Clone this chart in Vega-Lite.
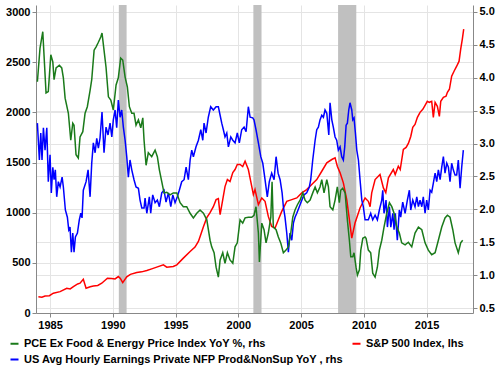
{
  "$schema": "https://vega.github.io/schema/vega-lite/v6.json",
  "width": 437,
  "height": 308,
  "autosize": {"type": "none"},
  "padding": {"left": 36, "top": 5, "right": 27, "bottom": 65},
  "config": {
    "view": {"stroke": null},
    "font": "Liberation Sans",
    "axis": {
      "labelFont": "Liberation Sans",
      "labelFontWeight": "bold",
      "labelFontSize": 11,
      "labelColor": "#000000",
      "domainColor": "#888888",
      "tickColor": "#888888",
      "gridColor": "#e4e4e4",
      "tickSize": 4,
      "labelPadding": 2,
      "title": null
    },
    "legend": {
      "labelFont": "Liberation Sans",
      "labelFontWeight": "bold",
      "labelFontSize": 11,
      "labelColor": "#000000"
    }
  },
  "datasets": {
    "rec": [
      {"a": 1990.48, "b": 1991.1},
      {"a": 2001.2, "b": 2001.85},
      {"a": 2007.95, "b": 2009.4}
    ],
    "sp": [
      {"s": "SPX", "x": 1984.07, "y": 163}, {"s": "SPX", "x": 1984.35, "y": 158}, {"s": "SPX", "x": 1984.6, "y": 170},
      {"s": "SPX", "x": 1984.95, "y": 172}, {"s": "SPX", "x": 1985.26, "y": 197}, {"s": "SPX", "x": 1985.8, "y": 213},
      {"s": "SPX", "x": 1986.33, "y": 247}, {"s": "SPX", "x": 1986.6, "y": 240}, {"s": "SPX", "x": 1986.86, "y": 263},
      {"s": "SPX", "x": 1987.2, "y": 290}, {"s": "SPX", "x": 1987.39, "y": 297}, {"s": "SPX", "x": 1987.65, "y": 337},
      {"s": "SPX", "x": 1987.87, "y": 247}, {"s": "SPX", "x": 1988.2, "y": 262}, {"s": "SPX", "x": 1988.45, "y": 270},
      {"s": "SPX", "x": 1988.8, "y": 275}, {"s": "SPX", "x": 1989.12, "y": 297}, {"s": "SPX", "x": 1989.57, "y": 347},
      {"s": "SPX", "x": 1989.9, "y": 345}, {"s": "SPX", "x": 1990.18, "y": 340}, {"s": "SPX", "x": 1990.44, "y": 363},
      {"s": "SPX", "x": 1990.6, "y": 345}, {"s": "SPX", "x": 1990.79, "y": 303}, {"s": "SPX", "x": 1991.11, "y": 360},
      {"s": "SPX", "x": 1991.4, "y": 385}, {"s": "SPX", "x": 1991.91, "y": 403}, {"s": "SPX", "x": 1992.3, "y": 410},
      {"s": "SPX", "x": 1992.71, "y": 423}, {"s": "SPX", "x": 1993.1, "y": 440}, {"s": "SPX", "x": 1993.5, "y": 457},
      {"s": "SPX", "x": 1994.03, "y": 480}, {"s": "SPX", "x": 1994.3, "y": 457}, {"s": "SPX", "x": 1994.82, "y": 463},
      {"s": "SPX", "x": 1995.1, "y": 480}, {"s": "SPX", "x": 1995.62, "y": 547}, {"s": "SPX", "x": 1996.16, "y": 613},
      {"s": "SPX", "x": 1996.55, "y": 657}, {"s": "SPX", "x": 1996.82, "y": 713}, {"s": "SPX", "x": 1996.95, "y": 760},
      {"s": "SPX", "x": 1997.22, "y": 860}, {"s": "SPX", "x": 1997.49, "y": 950}, {"s": "SPX", "x": 1997.75, "y": 1000},
      {"s": "SPX", "x": 1998.01, "y": 1060}, {"s": "SPX", "x": 1998.23, "y": 1130}, {"s": "SPX", "x": 1998.41, "y": 1140},
      {"s": "SPX", "x": 1998.55, "y": 980}, {"s": "SPX", "x": 1998.76, "y": 1130}, {"s": "SPX", "x": 1998.94, "y": 1260},
      {"s": "SPX", "x": 1999.13, "y": 1330}, {"s": "SPX", "x": 1999.34, "y": 1310}, {"s": "SPX", "x": 1999.56, "y": 1400},
      {"s": "SPX", "x": 1999.74, "y": 1430}, {"s": "SPX", "x": 1999.92, "y": 1480}, {"s": "SPX", "x": 2000.14, "y": 1480},
      {"s": "SPX", "x": 2000.35, "y": 1460}, {"s": "SPX", "x": 2000.54, "y": 1513}, {"s": "SPX", "x": 2000.8, "y": 1430},
      {"s": "SPX", "x": 2001.07, "y": 1263}, {"s": "SPX", "x": 2001.2, "y": 1180}, {"s": "SPX", "x": 2001.33, "y": 1230},
      {"s": "SPX", "x": 2001.6, "y": 1080}, {"s": "SPX", "x": 2001.87, "y": 1147}, {"s": "SPX", "x": 2002.13, "y": 1113},
      {"s": "SPX", "x": 2002.39, "y": 963}, {"s": "SPX", "x": 2002.66, "y": 863}, {"s": "SPX", "x": 2002.93, "y": 847},
      {"s": "SPX", "x": 2003.19, "y": 930}, {"s": "SPX", "x": 2003.46, "y": 1013}, {"s": "SPX", "x": 2003.86, "y": 1113},
      {"s": "SPX", "x": 2004.26, "y": 1130}, {"s": "SPX", "x": 2004.66, "y": 1147}, {"s": "SPX", "x": 2005.06, "y": 1197},
      {"s": "SPX", "x": 2005.45, "y": 1230}, {"s": "SPX", "x": 2005.85, "y": 1280}, {"s": "SPX", "x": 2006.25, "y": 1330},
      {"s": "SPX", "x": 2006.65, "y": 1413}, {"s": "SPX", "x": 2007.05, "y": 1497}, {"s": "SPX", "x": 2007.45, "y": 1530},
      {"s": "SPX", "x": 2007.71, "y": 1547}, {"s": "SPX", "x": 2007.89, "y": 1463}, {"s": "SPX", "x": 2008.11, "y": 1397},
      {"s": "SPX", "x": 2008.37, "y": 1297}, {"s": "SPX", "x": 2008.64, "y": 1130}, {"s": "SPX", "x": 2008.85, "y": 930},
      {"s": "SPX", "x": 2009.04, "y": 747}, {"s": "SPX", "x": 2009.3, "y": 897}, {"s": "SPX", "x": 2009.7, "y": 1047},
      {"s": "SPX", "x": 2010.1, "y": 1147}, {"s": "SPX", "x": 2010.36, "y": 1113}, {"s": "SPX", "x": 2010.5, "y": 1060},
      {"s": "SPX", "x": 2010.63, "y": 1197}, {"s": "SPX", "x": 2010.9, "y": 1330}, {"s": "SPX", "x": 2011.29, "y": 1380},
      {"s": "SPX", "x": 2011.56, "y": 1247}, {"s": "SPX", "x": 2011.75, "y": 1200}, {"s": "SPX", "x": 2011.96, "y": 1347},
      {"s": "SPX", "x": 2012.35, "y": 1430}, {"s": "SPX", "x": 2012.5, "y": 1380}, {"s": "SPX", "x": 2012.75, "y": 1463},
      {"s": "SPX", "x": 2012.9, "y": 1430}, {"s": "SPX", "x": 2013.15, "y": 1630}, {"s": "SPX", "x": 2013.37, "y": 1650},
      {"s": "SPX", "x": 2013.55, "y": 1690}, {"s": "SPX", "x": 2013.74, "y": 1760}, {"s": "SPX", "x": 2013.9, "y": 1850},
      {"s": "SPX", "x": 2014.08, "y": 1880}, {"s": "SPX", "x": 2014.27, "y": 1950}, {"s": "SPX", "x": 2014.48, "y": 2000},
      {"s": "SPX", "x": 2014.7, "y": 2030}, {"s": "SPX", "x": 2014.88, "y": 2070}, {"s": "SPX", "x": 2015.06, "y": 2110},
      {"s": "SPX", "x": 2015.22, "y": 2100}, {"s": "SPX", "x": 2015.41, "y": 2110}, {"s": "SPX", "x": 2015.54, "y": 1950},
      {"s": "SPX", "x": 2015.68, "y": 2100}, {"s": "SPX", "x": 2015.86, "y": 2060}, {"s": "SPX", "x": 2016.02, "y": 1960},
      {"s": "SPX", "x": 2016.13, "y": 2110}, {"s": "SPX", "x": 2016.34, "y": 2150}, {"s": "SPX", "x": 2016.55, "y": 2160},
      {"s": "SPX", "x": 2016.66, "y": 2200}, {"s": "SPX", "x": 2016.82, "y": 2230}, {"s": "SPX", "x": 2017.0, "y": 2360},
      {"s": "SPX", "x": 2017.19, "y": 2410}, {"s": "SPX", "x": 2017.4, "y": 2460}, {"s": "SPX", "x": 2017.59, "y": 2510},
      {"s": "SPX", "x": 2017.72, "y": 2630}, {"s": "SPX", "x": 2017.85, "y": 2730}, {"s": "SPX", "x": 2017.96, "y": 2830}
    ],
    "rhs": [
      {"s": "AHE", "x": 1983.99, "y": 3.31}, {"s": "AHE", "x": 1984.15, "y": 2.75}, {"s": "AHE", "x": 1984.26, "y": 3.16},
      {"s": "AHE", "x": 1984.36, "y": 2.75}, {"s": "AHE", "x": 1984.47, "y": 3.24}, {"s": "AHE", "x": 1984.6, "y": 2.9},
      {"s": "AHE", "x": 1984.74, "y": 3.24}, {"s": "AHE", "x": 1984.86, "y": 2.42}, {"s": "AHE", "x": 1985.0, "y": 2.83},
      {"s": "AHE", "x": 1985.1, "y": 2.25}, {"s": "AHE", "x": 1985.22, "y": 2.64}, {"s": "AHE", "x": 1985.32, "y": 2.45},
      {"s": "AHE", "x": 1985.42, "y": 2.6}, {"s": "AHE", "x": 1985.53, "y": 2.19}, {"s": "AHE", "x": 1985.66, "y": 2.42},
      {"s": "AHE", "x": 1985.8, "y": 2.34}, {"s": "AHE", "x": 1985.96, "y": 2.49}, {"s": "AHE", "x": 1986.06, "y": 2.34},
      {"s": "AHE", "x": 1986.22, "y": 1.99}, {"s": "AHE", "x": 1986.38, "y": 1.88}, {"s": "AHE", "x": 1986.49, "y": 1.69},
      {"s": "AHE", "x": 1986.59, "y": 1.73}, {"s": "AHE", "x": 1986.7, "y": 1.35}, {"s": "AHE", "x": 1986.81, "y": 1.64},
      {"s": "AHE", "x": 1986.91, "y": 1.35}, {"s": "AHE", "x": 1987.02, "y": 1.58}, {"s": "AHE", "x": 1987.18, "y": 1.64},
      {"s": "AHE", "x": 1987.33, "y": 1.84}, {"s": "AHE", "x": 1987.45, "y": 1.94}, {"s": "AHE", "x": 1987.55, "y": 1.87},
      {"s": "AHE", "x": 1987.65, "y": 2.29}, {"s": "AHE", "x": 1987.87, "y": 2.42}, {"s": "AHE", "x": 1988.03, "y": 2.6},
      {"s": "AHE", "x": 1988.19, "y": 2.19}, {"s": "AHE", "x": 1988.32, "y": 2.7}, {"s": "AHE", "x": 1988.45, "y": 3.01},
      {"s": "AHE", "x": 1988.59, "y": 2.86}, {"s": "AHE", "x": 1988.72, "y": 3.08}, {"s": "AHE", "x": 1988.85, "y": 2.93},
      {"s": "AHE", "x": 1988.98, "y": 3.08}, {"s": "AHE", "x": 1989.14, "y": 3.48}, {"s": "AHE", "x": 1989.3, "y": 2.86},
      {"s": "AHE", "x": 1989.46, "y": 3.25}, {"s": "AHE", "x": 1989.62, "y": 3.13}, {"s": "AHE", "x": 1989.78, "y": 3.31},
      {"s": "AHE", "x": 1989.92, "y": 3.1}, {"s": "AHE", "x": 1990.04, "y": 3.36}, {"s": "AHE", "x": 1990.18, "y": 3.51},
      {"s": "AHE", "x": 1990.31, "y": 3.24}, {"s": "AHE", "x": 1990.44, "y": 3.66}, {"s": "AHE", "x": 1990.58, "y": 3.4},
      {"s": "AHE", "x": 1990.71, "y": 3.51}, {"s": "AHE", "x": 1990.84, "y": 3.25}, {"s": "AHE", "x": 1990.98, "y": 3.05},
      {"s": "AHE", "x": 1991.11, "y": 2.8}, {"s": "AHE", "x": 1991.24, "y": 2.49}, {"s": "AHE", "x": 1991.37, "y": 2.75},
      {"s": "AHE", "x": 1991.51, "y": 2.6}, {"s": "AHE", "x": 1991.69, "y": 2.45}, {"s": "AHE", "x": 1991.85, "y": 2.34},
      {"s": "AHE", "x": 1992.04, "y": 2.32}, {"s": "AHE", "x": 1992.17, "y": 2.14}, {"s": "AHE", "x": 1992.31, "y": 2.02},
      {"s": "AHE", "x": 1992.49, "y": 2.02}, {"s": "AHE", "x": 1992.57, "y": 2.17}, {"s": "AHE", "x": 1992.71, "y": 1.94},
      {"s": "AHE", "x": 1992.91, "y": 2.19}, {"s": "AHE", "x": 1993.02, "y": 1.94}, {"s": "AHE", "x": 1993.18, "y": 2.22},
      {"s": "AHE", "x": 1993.37, "y": 2.1}, {"s": "AHE", "x": 1993.55, "y": 2.14}, {"s": "AHE", "x": 1993.71, "y": 2.04},
      {"s": "AHE", "x": 1993.9, "y": 2.25}, {"s": "AHE", "x": 1994.08, "y": 2.29}, {"s": "AHE", "x": 1994.24, "y": 2.11},
      {"s": "AHE", "x": 1994.43, "y": 2.25}, {"s": "AHE", "x": 1994.62, "y": 2.04}, {"s": "AHE", "x": 1994.78, "y": 2.22},
      {"s": "AHE", "x": 1994.96, "y": 2.1}, {"s": "AHE", "x": 1995.14, "y": 2.19}, {"s": "AHE", "x": 1995.3, "y": 2.29},
      {"s": "AHE", "x": 1995.49, "y": 2.42}, {"s": "AHE", "x": 1995.68, "y": 2.45}, {"s": "AHE", "x": 1995.84, "y": 2.64},
      {"s": "AHE", "x": 1996.02, "y": 2.45}, {"s": "AHE", "x": 1996.16, "y": 2.75}, {"s": "AHE", "x": 1996.29, "y": 2.9},
      {"s": "AHE", "x": 1996.42, "y": 2.8}, {"s": "AHE", "x": 1996.63, "y": 2.95}, {"s": "AHE", "x": 1996.82, "y": 3.05},
      {"s": "AHE", "x": 1997.01, "y": 3.21}, {"s": "AHE", "x": 1997.17, "y": 3.05}, {"s": "AHE", "x": 1997.27, "y": 3.31},
      {"s": "AHE", "x": 1997.43, "y": 3.16}, {"s": "AHE", "x": 1997.61, "y": 3.4}, {"s": "AHE", "x": 1997.8, "y": 3.56},
      {"s": "AHE", "x": 1998.01, "y": 3.51}, {"s": "AHE", "x": 1998.23, "y": 3.56}, {"s": "AHE", "x": 1998.41, "y": 3.56},
      {"s": "AHE", "x": 1998.55, "y": 3.43}, {"s": "AHE", "x": 1998.68, "y": 3.31}, {"s": "AHE", "x": 1998.81, "y": 3.21},
      {"s": "AHE", "x": 1998.94, "y": 3.1}, {"s": "AHE", "x": 1999.08, "y": 3.16}, {"s": "AHE", "x": 1999.21, "y": 2.95},
      {"s": "AHE", "x": 1999.4, "y": 3.1}, {"s": "AHE", "x": 1999.56, "y": 3.05}, {"s": "AHE", "x": 1999.74, "y": 3.01},
      {"s": "AHE", "x": 1999.92, "y": 3.16}, {"s": "AHE", "x": 2000.08, "y": 3.01}, {"s": "AHE", "x": 2000.27, "y": 3.21},
      {"s": "AHE", "x": 2000.46, "y": 3.25}, {"s": "AHE", "x": 2000.62, "y": 3.18}, {"s": "AHE", "x": 2000.8, "y": 3.56},
      {"s": "AHE", "x": 2000.94, "y": 3.4}, {"s": "AHE", "x": 2001.15, "y": 3.39}, {"s": "AHE", "x": 2001.25, "y": 3.36},
      {"s": "AHE", "x": 2001.41, "y": 3.21}, {"s": "AHE", "x": 2001.6, "y": 3.01}, {"s": "AHE", "x": 2001.79, "y": 2.8},
      {"s": "AHE", "x": 2001.95, "y": 2.7}, {"s": "AHE", "x": 2002.13, "y": 2.45}, {"s": "AHE", "x": 2002.31, "y": 2.19},
      {"s": "AHE", "x": 2002.47, "y": 2.42}, {"s": "AHE", "x": 2002.66, "y": 2.55}, {"s": "AHE", "x": 2002.85, "y": 2.45},
      {"s": "AHE", "x": 2003.01, "y": 2.8}, {"s": "AHE", "x": 2003.17, "y": 2.55}, {"s": "AHE", "x": 2003.33, "y": 2.45},
      {"s": "AHE", "x": 2003.49, "y": 2.25}, {"s": "AHE", "x": 2003.59, "y": 2.04}, {"s": "AHE", "x": 2003.72, "y": 1.88},
      {"s": "AHE", "x": 2003.86, "y": 1.64}, {"s": "AHE", "x": 2003.99, "y": 1.35}, {"s": "AHE", "x": 2004.12, "y": 1.64},
      {"s": "AHE", "x": 2004.26, "y": 1.53}, {"s": "AHE", "x": 2004.39, "y": 1.79}, {"s": "AHE", "x": 2004.52, "y": 1.88},
      {"s": "AHE", "x": 2004.66, "y": 1.94}, {"s": "AHE", "x": 2004.86, "y": 2.04}, {"s": "AHE", "x": 2005.06, "y": 2.14},
      {"s": "AHE", "x": 2005.24, "y": 2.22}, {"s": "AHE", "x": 2005.45, "y": 2.25}, {"s": "AHE", "x": 2005.66, "y": 2.34},
      {"s": "AHE", "x": 2005.77, "y": 2.45}, {"s": "AHE", "x": 2005.93, "y": 2.75}, {"s": "AHE", "x": 2006.12, "y": 3.05},
      {"s": "AHE", "x": 2006.25, "y": 3.21}, {"s": "AHE", "x": 2006.38, "y": 3.25}, {"s": "AHE", "x": 2006.51, "y": 3.36},
      {"s": "AHE", "x": 2006.65, "y": 3.43}, {"s": "AHE", "x": 2006.78, "y": 3.4}, {"s": "AHE", "x": 2006.91, "y": 3.51},
      {"s": "AHE", "x": 2007.05, "y": 3.46}, {"s": "AHE", "x": 2007.21, "y": 3.13}, {"s": "AHE", "x": 2007.31, "y": 3.62},
      {"s": "AHE", "x": 2007.45, "y": 3.36}, {"s": "AHE", "x": 2007.57, "y": 3.25}, {"s": "AHE", "x": 2007.71, "y": 3.1},
      {"s": "AHE", "x": 2007.84, "y": 3.05}, {"s": "AHE", "x": 2007.97, "y": 2.9}, {"s": "AHE", "x": 2008.11, "y": 2.95},
      {"s": "AHE", "x": 2008.24, "y": 2.8}, {"s": "AHE", "x": 2008.37, "y": 2.75}, {"s": "AHE", "x": 2008.48, "y": 2.95},
      {"s": "AHE", "x": 2008.59, "y": 3.28}, {"s": "AHE", "x": 2008.69, "y": 3.31}, {"s": "AHE", "x": 2008.8, "y": 3.51},
      {"s": "AHE", "x": 2008.9, "y": 3.62}, {"s": "AHE", "x": 2009.04, "y": 3.51}, {"s": "AHE", "x": 2009.12, "y": 3.36},
      {"s": "AHE", "x": 2009.22, "y": 3.39}, {"s": "AHE", "x": 2009.33, "y": 3.16}, {"s": "AHE", "x": 2009.44, "y": 2.9},
      {"s": "AHE", "x": 2009.57, "y": 2.75}, {"s": "AHE", "x": 2009.7, "y": 2.45}, {"s": "AHE", "x": 2009.84, "y": 2.14},
      {"s": "AHE", "x": 2009.96, "y": 2.04}, {"s": "AHE", "x": 2010.1, "y": 1.84}, {"s": "AHE", "x": 2010.36, "y": 1.84},
      {"s": "AHE", "x": 2010.55, "y": 1.94}, {"s": "AHE", "x": 2010.71, "y": 1.84}, {"s": "AHE", "x": 2010.9, "y": 1.91},
      {"s": "AHE", "x": 2011.08, "y": 1.84}, {"s": "AHE", "x": 2011.24, "y": 1.99}, {"s": "AHE", "x": 2011.43, "y": 2.14},
      {"s": "AHE", "x": 2011.51, "y": 2.29}, {"s": "AHE", "x": 2011.61, "y": 1.94}, {"s": "AHE", "x": 2011.77, "y": 2.14},
      {"s": "AHE", "x": 2011.88, "y": 1.73}, {"s": "AHE", "x": 2012.04, "y": 2.04}, {"s": "AHE", "x": 2012.15, "y": 1.73},
      {"s": "AHE", "x": 2012.31, "y": 1.94}, {"s": "AHE", "x": 2012.41, "y": 1.69}, {"s": "AHE", "x": 2012.51, "y": 1.94},
      {"s": "AHE", "x": 2012.67, "y": 1.53}, {"s": "AHE", "x": 2012.83, "y": 1.99}, {"s": "AHE", "x": 2012.94, "y": 1.88},
      {"s": "AHE", "x": 2013.1, "y": 2.11}, {"s": "AHE", "x": 2013.29, "y": 1.94}, {"s": "AHE", "x": 2013.47, "y": 2.14},
      {"s": "AHE", "x": 2013.63, "y": 2.29}, {"s": "AHE", "x": 2013.74, "y": 1.99}, {"s": "AHE", "x": 2013.9, "y": 2.14},
      {"s": "AHE", "x": 2014.08, "y": 2.04}, {"s": "AHE", "x": 2014.22, "y": 2.19}, {"s": "AHE", "x": 2014.35, "y": 2.04},
      {"s": "AHE", "x": 2014.48, "y": 2.14}, {"s": "AHE", "x": 2014.62, "y": 2.04}, {"s": "AHE", "x": 2014.74, "y": 2.19},
      {"s": "AHE", "x": 2014.88, "y": 1.94}, {"s": "AHE", "x": 2015.01, "y": 2.14}, {"s": "AHE", "x": 2015.14, "y": 1.99},
      {"s": "AHE", "x": 2015.28, "y": 2.29}, {"s": "AHE", "x": 2015.41, "y": 2.26}, {"s": "AHE", "x": 2015.54, "y": 2.4},
      {"s": "AHE", "x": 2015.68, "y": 2.55}, {"s": "AHE", "x": 2015.81, "y": 2.42}, {"s": "AHE", "x": 2015.94, "y": 2.6},
      {"s": "AHE", "x": 2016.08, "y": 2.45}, {"s": "AHE", "x": 2016.21, "y": 2.64}, {"s": "AHE", "x": 2016.34, "y": 2.8},
      {"s": "AHE", "x": 2016.47, "y": 2.55}, {"s": "AHE", "x": 2016.61, "y": 2.7}, {"s": "AHE", "x": 2016.74, "y": 2.64},
      {"s": "AHE", "x": 2016.87, "y": 2.42}, {"s": "AHE", "x": 2017.0, "y": 2.7}, {"s": "AHE", "x": 2017.13, "y": 2.6},
      {"s": "AHE", "x": 2017.27, "y": 2.52}, {"s": "AHE", "x": 2017.4, "y": 2.52}, {"s": "AHE", "x": 2017.53, "y": 2.75},
      {"s": "AHE", "x": 2017.67, "y": 2.32}, {"s": "AHE", "x": 2017.8, "y": 2.64}, {"s": "AHE", "x": 2017.93, "y": 2.9},

      {"s": "PCE", "x": 1983.99, "y": 3.94}, {"s": "PCE", "x": 1984.2, "y": 4.45}, {"s": "PCE", "x": 1984.42, "y": 4.7},
      {"s": "PCE", "x": 1984.68, "y": 3.77}, {"s": "PCE", "x": 1984.86, "y": 3.79}, {"s": "PCE", "x": 1985.06, "y": 4.35},
      {"s": "PCE", "x": 1985.22, "y": 4.24}, {"s": "PCE", "x": 1985.32, "y": 3.97}, {"s": "PCE", "x": 1985.48, "y": 4.15},
      {"s": "PCE", "x": 1985.74, "y": 4.19}, {"s": "PCE", "x": 1985.93, "y": 4.15}, {"s": "PCE", "x": 1986.06, "y": 4.0},
      {"s": "PCE", "x": 1986.2, "y": 3.69}, {"s": "PCE", "x": 1986.46, "y": 3.46}, {"s": "PCE", "x": 1986.65, "y": 3.05},
      {"s": "PCE", "x": 1986.81, "y": 3.31}, {"s": "PCE", "x": 1986.91, "y": 3.28}, {"s": "PCE", "x": 1987.07, "y": 2.83},
      {"s": "PCE", "x": 1987.25, "y": 2.78}, {"s": "PCE", "x": 1987.39, "y": 3.1}, {"s": "PCE", "x": 1987.61, "y": 3.18},
      {"s": "PCE", "x": 1987.79, "y": 3.46}, {"s": "PCE", "x": 1987.97, "y": 3.56}, {"s": "PCE", "x": 1988.19, "y": 3.81},
      {"s": "PCE", "x": 1988.32, "y": 3.97}, {"s": "PCE", "x": 1988.51, "y": 4.42}, {"s": "PCE", "x": 1988.67, "y": 4.47},
      {"s": "PCE", "x": 1988.85, "y": 4.54}, {"s": "PCE", "x": 1989.04, "y": 4.62}, {"s": "PCE", "x": 1989.14, "y": 4.68},
      {"s": "PCE", "x": 1989.3, "y": 4.42}, {"s": "PCE", "x": 1989.46, "y": 4.16}, {"s": "PCE", "x": 1989.65, "y": 3.71},
      {"s": "PCE", "x": 1989.84, "y": 3.66}, {"s": "PCE", "x": 1990.04, "y": 3.51}, {"s": "PCE", "x": 1990.26, "y": 3.89},
      {"s": "PCE", "x": 1990.44, "y": 4.0}, {"s": "PCE", "x": 1990.63, "y": 4.3}, {"s": "PCE", "x": 1990.79, "y": 4.27},
      {"s": "PCE", "x": 1990.98, "y": 4.01}, {"s": "PCE", "x": 1991.16, "y": 3.86}, {"s": "PCE", "x": 1991.32, "y": 3.56},
      {"s": "PCE", "x": 1991.51, "y": 3.46}, {"s": "PCE", "x": 1991.69, "y": 3.46}, {"s": "PCE", "x": 1991.85, "y": 3.28},
      {"s": "PCE", "x": 1992.04, "y": 3.36}, {"s": "PCE", "x": 1992.23, "y": 3.24}, {"s": "PCE", "x": 1992.39, "y": 3.39},
      {"s": "PCE", "x": 1992.49, "y": 3.05}, {"s": "PCE", "x": 1992.65, "y": 2.67}, {"s": "PCE", "x": 1992.83, "y": 2.86},
      {"s": "PCE", "x": 1993.1, "y": 2.8}, {"s": "PCE", "x": 1993.37, "y": 2.9}, {"s": "PCE", "x": 1993.55, "y": 2.8},
      {"s": "PCE", "x": 1993.71, "y": 2.6}, {"s": "PCE", "x": 1993.9, "y": 2.42}, {"s": "PCE", "x": 1994.08, "y": 2.25},
      {"s": "PCE", "x": 1994.3, "y": 2.26}, {"s": "PCE", "x": 1994.56, "y": 2.22}, {"s": "PCE", "x": 1994.82, "y": 2.25},
      {"s": "PCE", "x": 1995.1, "y": 2.25}, {"s": "PCE", "x": 1995.36, "y": 2.1}, {"s": "PCE", "x": 1995.62, "y": 2.04},
      {"s": "PCE", "x": 1995.89, "y": 2.04}, {"s": "PCE", "x": 1996.16, "y": 1.94}, {"s": "PCE", "x": 1996.42, "y": 1.87},
      {"s": "PCE", "x": 1996.69, "y": 1.94}, {"s": "PCE", "x": 1996.95, "y": 1.99}, {"s": "PCE", "x": 1997.22, "y": 1.94},
      {"s": "PCE", "x": 1997.49, "y": 1.84}, {"s": "PCE", "x": 1997.75, "y": 1.53}, {"s": "PCE", "x": 1997.88, "y": 1.43},
      {"s": "PCE", "x": 1998.07, "y": 1.34}, {"s": "PCE", "x": 1998.23, "y": 1.12}, {"s": "PCE", "x": 1998.41, "y": 0.97},
      {"s": "PCE", "x": 1998.55, "y": 1.23}, {"s": "PCE", "x": 1998.76, "y": 1.34}, {"s": "PCE", "x": 1998.94, "y": 1.18},
      {"s": "PCE", "x": 1999.13, "y": 1.34}, {"s": "PCE", "x": 1999.34, "y": 1.23}, {"s": "PCE", "x": 1999.56, "y": 1.18},
      {"s": "PCE", "x": 1999.74, "y": 1.43}, {"s": "PCE", "x": 1999.92, "y": 1.49}, {"s": "PCE", "x": 2000.14, "y": 1.84},
      {"s": "PCE", "x": 2000.35, "y": 1.79}, {"s": "PCE", "x": 2000.54, "y": 1.87}, {"s": "PCE", "x": 2000.8, "y": 1.88},
      {"s": "PCE", "x": 2001.07, "y": 1.88}, {"s": "PCE", "x": 2001.25, "y": 1.91}, {"s": "PCE", "x": 2001.41, "y": 2.04},
      {"s": "PCE", "x": 2001.6, "y": 1.64}, {"s": "PCE", "x": 2001.68, "y": 1.2}, {"s": "PCE", "x": 2001.87, "y": 1.79},
      {"s": "PCE", "x": 2002.05, "y": 1.69}, {"s": "PCE", "x": 2002.21, "y": 1.49}, {"s": "PCE", "x": 2002.39, "y": 1.64},
      {"s": "PCE", "x": 2002.59, "y": 1.88}, {"s": "PCE", "x": 2002.69, "y": 2.42}, {"s": "PCE", "x": 2002.79, "y": 1.73},
      {"s": "PCE", "x": 2003.01, "y": 1.69}, {"s": "PCE", "x": 2003.19, "y": 1.58}, {"s": "PCE", "x": 2003.38, "y": 1.49},
      {"s": "PCE", "x": 2003.59, "y": 1.34}, {"s": "PCE", "x": 2003.8, "y": 1.38}, {"s": "PCE", "x": 2003.99, "y": 1.43},
      {"s": "PCE", "x": 2004.18, "y": 1.64}, {"s": "PCE", "x": 2004.34, "y": 1.88}, {"s": "PCE", "x": 2004.52, "y": 1.99},
      {"s": "PCE", "x": 2004.71, "y": 2.07}, {"s": "PCE", "x": 2004.92, "y": 2.14}, {"s": "PCE", "x": 2005.14, "y": 2.25},
      {"s": "PCE", "x": 2005.32, "y": 2.14}, {"s": "PCE", "x": 2005.5, "y": 2.1}, {"s": "PCE", "x": 2005.72, "y": 2.14},
      {"s": "PCE", "x": 2005.93, "y": 2.25}, {"s": "PCE", "x": 2006.12, "y": 2.34}, {"s": "PCE", "x": 2006.3, "y": 2.25},
      {"s": "PCE", "x": 2006.51, "y": 2.34}, {"s": "PCE", "x": 2006.65, "y": 2.45}, {"s": "PCE", "x": 2006.83, "y": 2.25},
      {"s": "PCE", "x": 2007.05, "y": 2.45}, {"s": "PCE", "x": 2007.18, "y": 2.34}, {"s": "PCE", "x": 2007.31, "y": 2.04},
      {"s": "PCE", "x": 2007.53, "y": 1.99}, {"s": "PCE", "x": 2007.71, "y": 2.14}, {"s": "PCE", "x": 2007.89, "y": 2.34},
      {"s": "PCE", "x": 2008.05, "y": 2.1}, {"s": "PCE", "x": 2008.16, "y": 2.29}, {"s": "PCE", "x": 2008.32, "y": 2.32},
      {"s": "PCE", "x": 2008.51, "y": 2.25}, {"s": "PCE", "x": 2008.69, "y": 1.84}, {"s": "PCE", "x": 2008.85, "y": 1.53},
      {"s": "PCE", "x": 2008.96, "y": 1.28}, {"s": "PCE", "x": 2009.12, "y": 1.28}, {"s": "PCE", "x": 2009.22, "y": 1.34},
      {"s": "PCE", "x": 2009.38, "y": 1.12}, {"s": "PCE", "x": 2009.49, "y": 1.0}, {"s": "PCE", "x": 2009.65, "y": 1.08},
      {"s": "PCE", "x": 2009.76, "y": 1.38}, {"s": "PCE", "x": 2009.92, "y": 1.56}, {"s": "PCE", "x": 2010.1, "y": 1.58},
      {"s": "PCE", "x": 2010.18, "y": 1.56}, {"s": "PCE", "x": 2010.36, "y": 1.38}, {"s": "PCE", "x": 2010.55, "y": 1.34},
      {"s": "PCE", "x": 2010.71, "y": 1.03}, {"s": "PCE", "x": 2010.9, "y": 0.97}, {"s": "PCE", "x": 2011.08, "y": 1.12},
      {"s": "PCE", "x": 2011.24, "y": 1.38}, {"s": "PCE", "x": 2011.43, "y": 1.53}, {"s": "PCE", "x": 2011.61, "y": 1.73},
      {"s": "PCE", "x": 2011.83, "y": 1.94}, {"s": "PCE", "x": 2012.04, "y": 2.1}, {"s": "PCE", "x": 2012.23, "y": 2.04},
      {"s": "PCE", "x": 2012.41, "y": 1.94}, {"s": "PCE", "x": 2012.63, "y": 1.73}, {"s": "PCE", "x": 2012.83, "y": 1.64},
      {"s": "PCE", "x": 2013.02, "y": 1.49}, {"s": "PCE", "x": 2013.29, "y": 1.46}, {"s": "PCE", "x": 2013.55, "y": 1.5},
      {"s": "PCE", "x": 2013.82, "y": 1.43}, {"s": "PCE", "x": 2014.08, "y": 1.64}, {"s": "PCE", "x": 2014.35, "y": 1.73},
      {"s": "PCE", "x": 2014.62, "y": 1.69}, {"s": "PCE", "x": 2014.88, "y": 1.49}, {"s": "PCE", "x": 2015.14, "y": 1.38},
      {"s": "PCE", "x": 2015.41, "y": 1.31}, {"s": "PCE", "x": 2015.68, "y": 1.34}, {"s": "PCE", "x": 2015.94, "y": 1.53},
      {"s": "PCE", "x": 2016.21, "y": 1.73}, {"s": "PCE", "x": 2016.47, "y": 1.87}, {"s": "PCE", "x": 2016.66, "y": 1.91},
      {"s": "PCE", "x": 2016.87, "y": 1.88}, {"s": "PCE", "x": 2017.09, "y": 1.69}, {"s": "PCE", "x": 2017.27, "y": 1.49},
      {"s": "PCE", "x": 2017.53, "y": 1.34}, {"s": "PCE", "x": 2017.72, "y": 1.49}, {"s": "PCE", "x": 2017.88, "y": 1.53}
    ]
  },
  "layer": [
    {
      "data": {"name": "rec"},
      "mark": {"type": "rect", "color": "#c0c0c0"},
      "encoding": {
        "x": {
          "field": "a", "type": "quantitative",
          "scale": {"domain": [1983.88, 2018.7], "nice": false, "zero": false},
          "axis": {"values": [1985, 1990, 1995, 2000, 2005, 2010, 2015], "format": "d", "grid": true, "labelFlush": false}
        },
        "x2": {"field": "b"}
      }
    },
    {
      "data": {"name": "sp"},
      "mark": {"type": "line", "strokeWidth": 1.5},
      "encoding": {
        "x": {"field": "x", "type": "quantitative"},
        "y": {
          "field": "y", "type": "quantitative",
          "scale": {"domain": [0, 3070], "nice": false, "zero": false},
          "axis": {"orient": "left", "values": [0, 500, 1000, 1500, 2000, 2500, 3000], "format": "d", "grid": true}
        },
        "color": {
          "field": "s", "type": "nominal",
          "scale": {"domain": ["PCE", "SPX", "AHE"], "range": ["#1a7a1a", "#ff0000", "#0000ff"]},
          "legend": {
            "orient": "none", "legendX": -27, "legendY": 333,
            "direction": "horizontal", "columns": 2, "title": null,
            "symbolType": "stroke", "symbolSize": 64, "symbolStrokeWidth": 2,
            "labelOffset": 4, "rowPadding": 4, "columnPadding": 4, "padding": 0,
            "labelLimit": 400,
            "labelExpr": "datum.value == 'PCE' ? 'PCE Ex Food & Energy Price Index YoY %, rhs' : datum.value == 'SPX' ? 'S&P 500 Index, lhs' : 'US Avg Hourly Earnings Private NFP Prod&NonSup YoY , rhs'"
          }
        }
      }
    },
    {
      "data": {"name": "rhs"},
      "mark": {"type": "line", "strokeWidth": 1.5},
      "encoding": {
        "x": {"field": "x", "type": "quantitative"},
        "y": {
          "field": "y", "type": "quantitative",
          "scale": {"domain": [0.424, 5.106], "nice": false, "zero": false},
          "axis": {"orient": "right", "values": [0.5, 1, 1.5, 2, 2.5, 3, 3.5, 4, 4.5, 5], "format": ".1f", "grid": true}
        },
        "color": {"field": "s", "type": "nominal"}
      }
    }
  ],
  "resolve": {"scale": {"y": "independent"}, "axis": {"y": "independent"}}
}
